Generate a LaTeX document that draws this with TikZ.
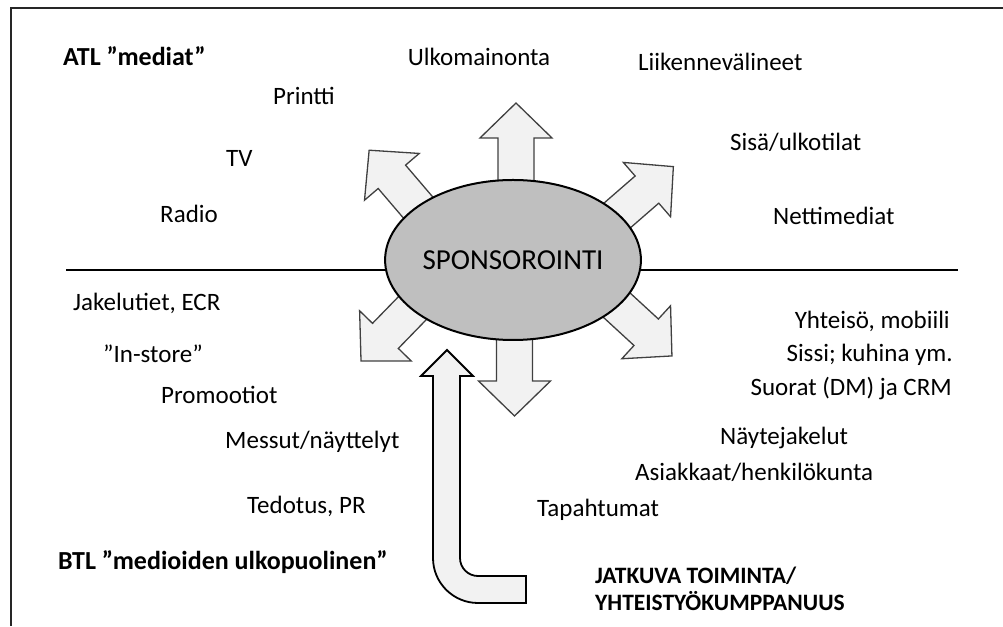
\documentclass[tikz,border=0pt]{standalone}
\usepackage{fontspec}
\setmainfont{Carlito}
\usetikzlibrary{positioning, shapes.geometric}

\definecolor{ovalgray}{HTML}{BFBFBF}
\definecolor{arrowfill}{HTML}{F2F2F2}
\definecolor{arrowline}{HTML}{404040}

\begin{document}
\begin{tikzpicture}[
  x=1pt, y=1pt,
  lbl/.style={font=\fontsize{25}{30}\selectfont, inner sep=0pt},
  heading/.style={font=\fontsize{26}{31}\selectfont\bfseries, inner sep=0pt},
  partner/.style={font=\fontsize{23.5}{27}\selectfont\bfseries, inner sep=0pt, align=left},
  blockarrow/.style={fill=arrowfill, draw=arrowline, line width=1.3pt, line join=miter},
  bigarrow/.style={fill=arrowfill, draw=black, line width=1.8pt, line join=miter},
  hub/.style={ellipse, draw=black, line width=2pt, fill=ovalgray,
              minimum width=246pt, minimum height=160pt, inner sep=0pt,
              font=\fontsize{29}{34}\selectfont}
]
  \useasboundingbox (0,0) rectangle (1003,626);

  % frame and ATL/BTL divider
  \draw[line width=1.8pt, draw=black!85] (11,0) -- (11,618) -- (1003,618);
  \draw[line width=1.4pt] (66,356) -- (958,356);

  % arrows out of the hub
  \foreach \ang/\bx/\by in {90/516/447, -90/514.5/286, 130.5/418.5/418,
                            41/616/409.5, 225.8/414/319.5, -42.6/616/321.5}
    \draw[blockarrow, shift={(\bx,\by)}, rotate=\ang]
      (-14,-18) -- (41,-18) -- (41,-36) -- (76,0) -- (41,36) -- (41,18) -- (-14,18) -- cycle;

  \node[hub] (sponsorointi) at (513,366) {SPONSOROINTI};

  % continuing partnership arrow
  \draw[bigarrow] (526,23) -- (478,23) arc[start angle=270, end angle=180, radius=45]
    -- (433,250) -- (421,250) -- (447,276) -- (473,250) -- (460,250)
    -- (460,68) arc[start angle=180, end angle=270, radius=18] -- (526,50) -- cycle;

  % ATL
  \node[heading, anchor=west] (atl) at (63,570) {ATL ”mediat”};
  \node[lbl] (ulkomainonta) at (479,569) {Ulkomainonta};
  \node[lbl, anchor=west] (liikenne) at (638,564) {Liikennevälineet};
  \node[lbl, anchor=west] (printti) at (273,530) {Printti};
  \node[lbl, anchor=west] (sisa) at (730,484) {Sisä/ulkotilat};
  \node[lbl, anchor=west] (tv) at (226,468) {TV};
  \node[lbl, anchor=west] (radio) at (160,412) {Radio};
  \node[lbl, anchor=west] (netti) at (773,410) {Nettimediat};

  % BTL
  \node[lbl, anchor=west] (jakelu) at (73,323) {Jakelutiet, ECR};
  \node[lbl, anchor=east] (yhteiso) at (950,305) {Yhteisö, mobiili};
  \node[lbl, anchor=west] (instore) at (103,272) {”In-store”};
  \node[lbl, anchor=east] (sissi) at (953,271) {Sissi; kuhina ym.};
  \node[lbl, anchor=west] (promo) at (161,231) {Promootiot};
  \node[lbl, anchor=east] (suorat) at (952,237) {Suorat (DM) ja CRM};
  \node[lbl, anchor=west] (nayte) at (720,188) {Näytejakelut};
  \node[lbl, anchor=west] (messut) at (225,184) {Messut/näyttelyt};
  \node[lbl, anchor=west] (asiakkaat) at (635,154) {Asiakkaat/henkilökunta};
  \node[lbl, anchor=west] (tedotus) at (247,120) {Tedotus, PR};
  \node[lbl, anchor=west] (tapahtumat) at (537,116) {Tapahtumat};
  \node[heading, anchor=west] (btl) at (58,64) {BTL ”medioiden ulkopuolinen”};
  \node[partner, anchor=west] (jatkuva) at (595,37.5) {JATKUVA TOIMINTA/\\YHTEISTYÖKUMPPANUUS};
\end{tikzpicture}
\end{document}
